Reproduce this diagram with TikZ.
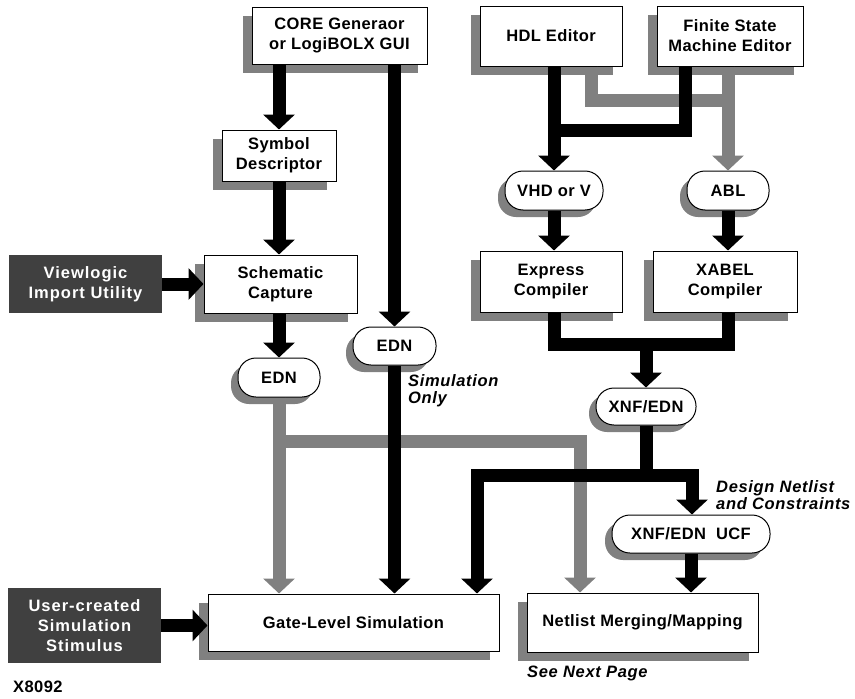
\documentclass[tikz,border=0pt]{standalone}
\usepackage{fontspec}
\setmainfont{Liberation Sans}
\usetikzlibrary{arrows.meta,calc}
\definecolor{shd}{HTML}{808080}
\definecolor{dark}{HTML}{404040}
\tikzset{
  txt/.style={font=\fontsize{16.5}{20}\selectfont\bfseries\addfontfeature{LetterSpace=2.5}, align=center, inner sep=0pt},
  box/.style={txt, draw=black, line width=1pt, fill=white, minimum width=#1},
  pill/.style={txt, draw=black, line width=1pt, fill=white, rounded corners=18pt, minimum height=38pt, minimum width=#1},
  darkbox/.style={txt, font=\fontsize{16.5}{20}\selectfont\bfseries\addfontfeature{LetterSpace=6}, fill=dark, text=white, minimum width=153pt},
  conn/.style={line width=13pt, -{Triangle[width=31pt,length=15pt]}},
  blk/.style={conn, draw=black},
  gry/.style={conn, draw=shd},
  blkline/.style={line width=13pt, draw=black},
  gryline/.style={line width=13pt, draw=shd},
  lab/.style={font=\fontsize{16.5}{17}\selectfont\bfseries\itshape\addfontfeature{LetterSpace=4}, align=left, inner sep=0pt, anchor=west},
}
\newcommand{\shadowed}[5]{% name, center, w, h, text
  \fill[shd] ($(#2)+(-9,9)+(-#3/2,-#4/2)$) rectangle ($(#2)+(-9,9)+(#3/2,#4/2)$);
  \node[box=#3pt, minimum height=#4pt] (#1) at (#2) {#5};
}
\newcommand{\shpill}[5]{% name, center, w, h, text
  \fill[shd, rounded corners=18pt] ($(#2)+(-7,7)+(-#3/2,-#4/2)$) rectangle ($(#2)+(-7,7)+(#3/2,#4/2)$);
  \node[pill=#3pt, minimum height=#4pt] (#1) at (#2) {#5};
}
\begin{document}
\begin{tikzpicture}[x=1pt,y=-1pt]
\useasboundingbox (0,0) rectangle (855,699);
% boxes
\shadowed{core}{339.5,35.5}{175}{57}{CORE Generaor\\or LogiBOLX GUI}
\shadowed{hdl}{551,36}{142}{60}{HDL Editor}
\shadowed{fsm}{730,36}{146}{60}{Finite State\\Machine Editor}
\shadowed{sym}{279,155.5}{114}{51}{Symbol\\Descriptor}
\shadowed{schem}{280.5,284}{153}{58}{Schematic\\Capture}
\shadowed{express}{551,281.5}{142}{61}{Express\\Compiler}
\shadowed{xabel}{725,281.5}{144}{61}{XABEL\\Compiler}
\shadowed{gate}{353.5,622.5}{291}{57}{Gate-Level Simulation}
\shadowed{netlist}{642.5,622.5}{231}{59}{Netlist Merging/Mapping}
\shpill{vhd}{554,190.5}{98}{39}{VHD or V}
\shpill{abl}{728,190.5}{82}{39}{ABL}
\shpill{edna}{279,377.5}{82}{39}{EDN}
\shpill{ednb}{394.5,346}{83}{38}{EDN}
\shpill{xnf}{646,406.5}{100}{37}{XNF/EDN}
\shpill{ucf}{691,534}{158}{38}{XNF/EDN\ \ UCF}
\node[darkbox, minimum height=58pt] (view) at (85.5,284) {Viewlogic\\Import Utility};
\node[darkbox, minimum height=75pt] (user) at (84.5,625.5) {User-created\\Simulation\\Stimulus};
% coordinates
\coordinate (gj) at (591,100);
\coordinate (bj) at (685,130);
\coordinate (mj) at (646,344);
\coordinate (nj) at (646,475);
\coordinate (nl) at (477,475);
\coordinate (nr) at (692,475);
\coordinate (gb) at (580,441);
% gray connectors
\draw[gryline] (gj |- hdl.south) -- (gj) -- (gj -| abl.north);
\draw[gry] (abl.north |- fsm.south) -- (abl.north);
\draw[gry] (edna.south) -- (gate.north -| edna.south);
\draw[gry] (edna.south |- gb) -- (gb) -- (gb |- netlist.north);
% black connectors
\draw[blk] (sym.north |- core.south) -- (sym.north);
\draw[blk] (ednb.north |- core.south) -- (ednb.north);
\draw[blk] (ednb.south) -- (gate.north -| ednb.south);
\draw[blk] (sym.south) -- (schem.north -| sym.south);
\draw[blk] (view.east) -- (schem.west);
\draw[blk] (edna.north |- schem.south) -- (edna.north);
\draw[blk] (vhd.north |- hdl.south) -- (vhd.north);
\draw[blkline] (bj |- fsm.south) -- (bj) -- (bj -| vhd.north);
\draw[blk] (vhd.south) -- (express.north -| vhd.south);
\draw[blk] (abl.south) -- (xabel.north -| abl.south);
\draw[blkline] (vhd.south |- express.south) -- (vhd.south |- mj) -- (abl.south |- mj) -- (abl.south |- xabel.south);
\draw[blk] (mj) -- (xnf.north);
\draw[blk] (xnf.south) -- (nj) -- (nl) -- (nl |- gate.north);
\draw[blk] (nj) -- (nr) -- (nr |- ucf.north);
\draw[blk] (ucf.south) -- (netlist.north -| ucf.south);
\draw[blk] (user.east) -- (gate.west |- user.east);
% labels
\node[lab] (simonly) at (408,391) {Simulation\\Only};
\node[lab] (dnc) at (716,495.5) {Design Netlist\\and Constraints};
\node[lab] (snp) at (527,673) {See Next Page};
\node[txt, anchor=west] (xid) at (13,687) {X8092};
\end{tikzpicture}
\end{document}
